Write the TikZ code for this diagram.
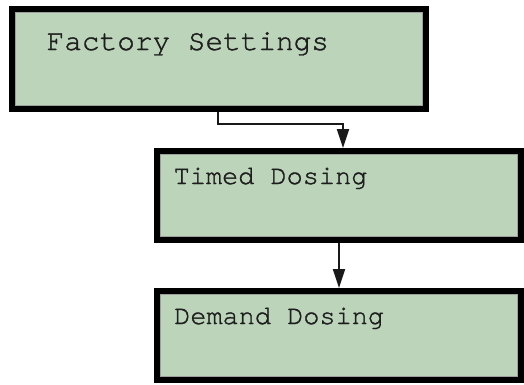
\documentclass[tikz,border=0pt]{standalone}
\usepackage{fontspec}
\newfontfamily\displayfont{texgyrecursor-regular.otf}[FakeBold=1.2]
\usetikzlibrary{arrows.meta}
\definecolor{panelgreen}{RGB}{188,213,186}
\definecolor{inktext}{RGB}{30,30,30}
\tikzset{
  panel/.style={rectangle, draw=black, line width=6pt, fill=panelgreen, inner sep=0pt},
  bevel/.style={draw=gray!75, line width=0.9pt},
  paneltext/.style={anchor=base west, inner sep=0pt, text=inktext, font=\displayfont\fontsize{26.9}{30}\selectfont},
  bigtext/.style={paneltext, font=\displayfont\fontsize{29.4}{33}\selectfont},
  conn/.style={draw=black!90, line width=2.2pt, -{Triangle[length=19pt,width=12pt]}}
}
\begin{document}
\begin{tikzpicture}[x=1pt, y=-1pt]
  \useasboundingbox (0,0) rectangle (524,384);

  % the three menu panels
  \node[panel, minimum width=414pt, minimum height=100pt] (f) at (219,59) {};
  \node[panel, minimum width=364pt, minimum height=89pt] (t) at (339,195.5) {};
  \node[panel, minimum width=364pt, minimum height=89pt] (d) at (339,335.5) {};

  % light inner edge of each panel
  \foreach \p in {f,t,d}
    \draw[bevel] ([shift={(6.5,6.5)}]\p.north west) rectangle ([shift={(-6.5,-6.5)}]\p.south east);

  % panel captions
  \node[bigtext] (fl) at ([shift={(37.5,44)}]f.north west) {Factory Settings};
  \node[paneltext] (tl) at ([shift={(19.5,36)}]t.north west) {Timed Dosing};
  \node[paneltext] (dl) at ([shift={(20,36)}]d.north west) {Demand Dosing};

  % menu flow
  \draw[conn] ([xshift=-1pt]f.south) -- ++(0,12) -| ([xshift=4pt]t.north);
  \draw[conn] (t.south) -- (d.north);
\end{tikzpicture}
\end{document}
